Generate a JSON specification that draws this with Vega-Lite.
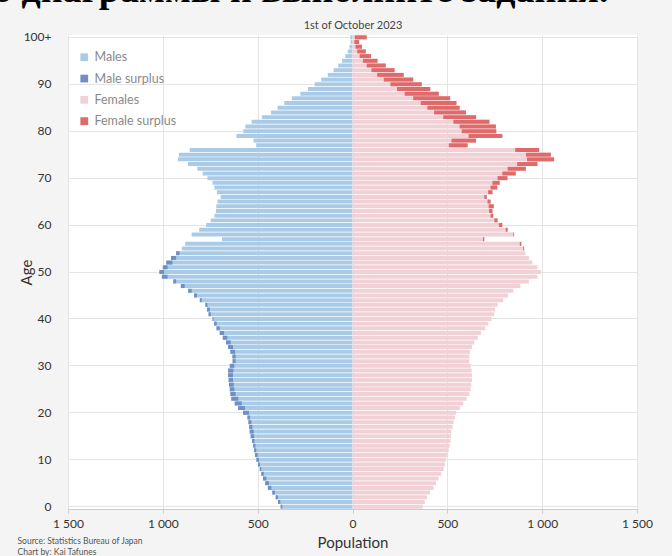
{
  "$schema": "https://vega.github.io/schema/vega-lite/v6.json",
  "width": 569,
  "height": 474,
  "autosize": {"type": "none"},
  "padding": {"left": 68, "top": 35, "right": 35, "bottom": 47},
  "background": "#f4f4f4",
  "config": {
    "view": {"fill": "white", "stroke": null},
    "font": "Lato",
    "axis": {"labelFont": "Lato", "titleFont": "Lato", "labelColor": "#333333", "titleColor": "#333333", "titleFontWeight": "normal"},
    "legend": {"labelFont": "Lato"}
  },
  "title": {
    "text": "о диаграммы и выполните задания.",
    "anchor": "start",
    "frame": "group",
    "font": "Liberation Serif",
    "fontSize": 38,
    "fontWeight": "bold",
    "color": "#000000",
    "dx": -75,
    "offset": 9
  },
  "data": {
    "values": [
      {"age": 0, "male": 379, "female": 370},
      {"age": 1, "male": 393, "female": 381},
      {"age": 2, "male": 405, "female": 393},
      {"age": 3, "male": 423, "female": 409},
      {"age": 4, "male": 446, "female": 428},
      {"age": 5, "male": 460, "female": 440},
      {"age": 6, "male": 472, "female": 454},
      {"age": 7, "male": 481, "female": 468},
      {"age": 8, "male": 489, "female": 481},
      {"age": 9, "male": 498, "female": 488},
      {"age": 10, "male": 507, "female": 493},
      {"age": 11, "male": 514, "female": 500},
      {"age": 12, "male": 519, "female": 507},
      {"age": 13, "male": 524, "female": 512},
      {"age": 14, "male": 530, "female": 517},
      {"age": 15, "male": 537, "female": 519},
      {"age": 16, "male": 542, "female": 521},
      {"age": 17, "male": 545, "female": 528},
      {"age": 18, "male": 549, "female": 533},
      {"age": 19, "male": 554, "female": 540},
      {"age": 20, "male": 577, "female": 546},
      {"age": 21, "male": 603, "female": 567},
      {"age": 22, "male": 621, "female": 584},
      {"age": 23, "male": 639, "female": 602},
      {"age": 24, "male": 644, "female": 616},
      {"age": 25, "male": 647, "female": 623},
      {"age": 26, "male": 651, "female": 626},
      {"age": 27, "male": 653, "female": 630},
      {"age": 28, "male": 656, "female": 630},
      {"age": 29, "male": 656, "female": 628},
      {"age": 30, "male": 647, "female": 623},
      {"age": 31, "male": 632, "female": 616},
      {"age": 32, "male": 633, "female": 616},
      {"age": 33, "male": 644, "female": 619},
      {"age": 34, "male": 656, "female": 630},
      {"age": 35, "male": 667, "female": 642},
      {"age": 36, "male": 684, "female": 660},
      {"age": 37, "male": 700, "female": 677},
      {"age": 38, "male": 717, "female": 700},
      {"age": 39, "male": 730, "female": 716},
      {"age": 40, "male": 738, "female": 733},
      {"age": 41, "male": 759, "female": 747},
      {"age": 42, "male": 767, "female": 752},
      {"age": 43, "male": 776, "female": 765},
      {"age": 44, "male": 805, "female": 795},
      {"age": 45, "male": 835, "female": 820},
      {"age": 46, "male": 866, "female": 848},
      {"age": 47, "male": 905, "female": 885},
      {"age": 48, "male": 945, "female": 930},
      {"age": 49, "male": 1005, "female": 975},
      {"age": 50, "male": 1018, "female": 993},
      {"age": 51, "male": 1000, "female": 975},
      {"age": 52, "male": 982, "female": 949},
      {"age": 53, "male": 957, "female": 930},
      {"age": 54, "male": 930, "female": 912},
      {"age": 55, "male": 900, "female": 905},
      {"age": 56, "male": 882, "female": 890},
      {"age": 57, "male": 688, "female": 695},
      {"age": 58, "male": 848, "female": 852},
      {"age": 59, "male": 808, "female": 818},
      {"age": 60, "male": 772, "female": 790},
      {"age": 61, "male": 748, "female": 765},
      {"age": 62, "male": 728, "female": 742},
      {"age": 63, "male": 720, "female": 738},
      {"age": 64, "male": 718, "female": 745},
      {"age": 65, "male": 712, "female": 728},
      {"age": 66, "male": 695, "female": 708},
      {"age": 67, "male": 715, "female": 738},
      {"age": 68, "male": 728, "female": 763},
      {"age": 69, "male": 738, "female": 776},
      {"age": 70, "male": 765, "female": 817},
      {"age": 71, "male": 790, "female": 861},
      {"age": 72, "male": 818, "female": 914},
      {"age": 73, "male": 868, "female": 975},
      {"age": 74, "male": 920, "female": 1063},
      {"age": 75, "male": 915, "female": 1046},
      {"age": 76, "male": 858, "female": 984},
      {"age": 77, "male": 508, "female": 607},
      {"age": 78, "male": 522, "female": 651},
      {"age": 79, "male": 612, "female": 790},
      {"age": 80, "male": 576, "female": 758},
      {"age": 81, "male": 565, "female": 756},
      {"age": 82, "male": 532, "female": 722},
      {"age": 83, "male": 478, "female": 652},
      {"age": 84, "male": 430, "female": 598},
      {"age": 85, "male": 395, "female": 565},
      {"age": 86, "male": 360, "female": 548},
      {"age": 87, "male": 320, "female": 515},
      {"age": 88, "male": 275, "female": 455},
      {"age": 89, "male": 235, "female": 410},
      {"age": 90, "male": 200, "female": 365},
      {"age": 91, "male": 165, "female": 320},
      {"age": 92, "male": 130, "female": 270},
      {"age": 93, "male": 100, "female": 222},
      {"age": 94, "male": 75, "female": 175},
      {"age": 95, "male": 55, "female": 132},
      {"age": 96, "male": 38, "female": 98},
      {"age": 97, "male": 25, "female": 70},
      {"age": 98, "male": 16, "female": 50},
      {"age": 99, "male": 10, "female": 35},
      {"age": 100, "male": 12, "female": 75}
    ]
  },
  "layer": [
    {
      "encoding": {
        "y": {
          "field": "age",
          "type": "ordinal",
          "sort": "descending",
          "scale": {"paddingInner": 0.15, "paddingOuter": 0.075},
          "axis": {
            "values": [0, 10, 20, 30, 40, 50, 60, 70, 80, 90, 100],
            "labelExpr": "datum.value == 100 ? '100+' : datum.label",
            "ticks": false,
            "domain": false,
            "grid": true,
            "gridColor": "#e4e4e4",
            "bandPosition": 0.5,
            "labelFontSize": 12,
            "labelPadding": 17,
            "title": "Age",
            "titleFontSize": 15,
            "titleX": -34,
            "titleY": 237
          }
        },
        "x": {
          "field": "male",
          "type": "quantitative",
          "scale": {"domain": [-1500, 1500], "reverse": true, "nice": false},
          "axis": {
            "orient": "bottom",
            "values": [-1500, -1000, -500, 0, 500, 1000, 1500],
            "labelExpr": "replace(format(abs(datum.value), ','), ',', ' ')",
            "labelFlush": false,
            "labelOverlap": false,
            "grid": true,
            "gridColor": "#e4e4e4",
            "domainColor": "#cccccc",
            "tickColor": "#cccccc",
            "tickSize": 4,
            "labelPadding": 5,
            "labelFontSize": 12,
            "title": "Population",
            "titleFontSize": 15,
            "titlePadding": 6
          }
        }
      },
      "layer": [
        {
          "mark": {"type": "bar"},
          "encoding": {
            "color": {
              "datum": "Males",
              "type": "nominal",
              "scale": {"domain": ["Males", "Male surplus", "Females", "Female surplus"], "range": ["#a9cbe8", "#7090c4", "#f1d0d6", "#df6a6a"]},
              "legend": {"orient": "none", "legendX": 8, "legendY": 14, "padding": 2, "title": null, "symbolType": "square", "symbolSize": 60, "labelFontSize": 12.5, "labelColor": "#8a8a8a", "rowPadding": 8.3, "labelOffset": 4}
            }
          }
        },
        {
          "transform": [{"filter": "datum.male > datum.female"}],
          "mark": {"type": "bar"},
          "encoding": {
            "x2": {"field": "female"},
            "color": {"datum": "Male surplus", "type": "nominal"}
          }
        }
      ]
    },
    {
      "encoding": {
        "y": {
          "field": "age",
          "type": "ordinal",
          "sort": "descending",
          "scale": {"paddingInner": 0.15, "paddingOuter": 0.075},
          "axis": {
            "orient": "left",
            "labels": false,
            "ticks": false,
            "domain": false,
            "grid": false,
            "title": ["Source: Statistics Bureau of Japan", "Chart by: Kai Tafunes"],
            "titleAngle": 0,
            "titleAlign": "left",
            "titleBaseline": "top",
            "titleX": -51,
            "titleY": 501,
            "titleFontSize": 8.5,
            "titleColor": "#555555",
            "titleLineHeight": 11
          }
        },
        "x": {
          "field": "female",
          "type": "quantitative",
          "scale": {"domain": [-1500, 1500], "nice": false},
          "axis": {
            "orient": "top",
            "labels": false,
            "ticks": false,
            "domain": false,
            "grid": false,
            "title": "1st of October 2023",
            "titleFontSize": 11,
            "titleColor": "#444444",
            "titlePadding": 5
          }
        }
      },
      "layer": [
        {
          "mark": {"type": "bar"},
          "encoding": {"color": {"datum": "Females", "type": "nominal"}}
        },
        {
          "transform": [{"filter": "datum.female > datum.male"}],
          "mark": {"type": "bar"},
          "encoding": {
            "x2": {"field": "male"},
            "color": {"datum": "Female surplus", "type": "nominal"}
          }
        }
      ]
    }
  ],
  "resolve": {"scale": {"x": "independent", "y": "independent"}}
}
